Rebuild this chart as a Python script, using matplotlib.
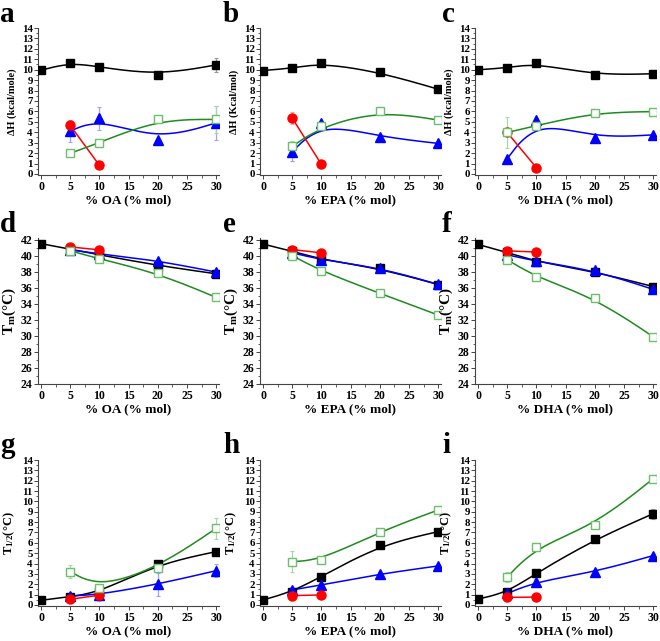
import numpy as np
import matplotlib
matplotlib.use("Agg")
import matplotlib.pyplot as plt
from matplotlib.ticker import MultipleLocator

plt.rcParams['font.family'] = ['Liberation Serif', 'DejaVu Serif']
plt.rcParams['font.weight'] = 'bold'
plt.rcParams['mathtext.fontset'] = 'custom'
plt.rcParams['mathtext.rm'] = 'Liberation Serif:bold'
plt.rcParams['mathtext.it'] = 'Liberation Serif:bold'

# x positions (% mol)
x_all = [0, 5, 10, 20, 30]
x_sub = [5, 10, 20, 30]
x_red = [5, 10]

# ---- row 1: enthalpy (kcal/mol)
dH_oa_black = [9.95, 10.68, 10.27, 9.47, 10.46]
dH_oa_red = [4.66, 0.83]
dH_oa_blue = [4.11, 5.32, 3.22, 4.90]
dH_oa_green = [1.98, 3.00, 5.23, 5.23]
dH_oa_black_err = [0.1, 0.15, 0.15, 0.15, 0.7]
dH_oa_red_err = [0.5, 0.1]
dH_oa_blue_err = [1.0, 1.1, 0.2, 1.6]
dH_oa_green_err = [0.2, 0.2, 0.2, 1.3]

dH_epa_black = [9.92, 10.14, 10.65, 9.76, 8.13]
dH_epa_red = [5.36, 0.92]
dH_epa_blue = [2.14, 4.91, 3.57, 2.93]
dH_epa_green = [2.65, 4.56, 6.06, 5.17]
dH_epa_black_err = [0.1, 0.2, 0.15, 0.2, 0.15]
dH_epa_red_err = [0.6, 0.1]
dH_epa_blue_err = [0.9, 0.2, 0.3, 0.2]
dH_epa_green_err = [0.5, 0.3, 0.3, 0.15]

dH_dha_black = [9.99, 10.18, 10.63, 9.48, 9.61]
dH_dha_red = [3.98, 0.60]
dH_dha_blue = [1.46, 5.15, 3.44, 3.75]
dH_dha_green = [3.98, 4.64, 5.89, 5.98]
dH_dha_black_err = [0.1, 0.15, 0.15, 0.15, 0.4]
dH_dha_red_err = [0.3, 0.1]
dH_dha_blue_err = [0.2, 0.2, 0.2, 0.2]
dH_dha_green_err = [1.5, 0.2, 0.2, 0.2]

# ---- row 2: Tm (deg C)
tm_oa_black = [41.5, 40.8, 40.1, 38.77, 37.74]
tm_oa_red = [41.09, 40.72]
tm_oa_blue = [40.72, 40.22, 39.38, 37.95]
tm_oa_green = [40.6, 39.6, 37.82, 34.8]

tm_epa_black = [41.45, 40.55, 39.52, 38.4, 36.4]
tm_epa_red = [40.76, 40.35]
tm_epa_blue = [40.35, 39.48, 38.49, 36.42]
tm_epa_green = [40.0, 38.07, 35.3, 32.6]

tm_dha_black = [41.4, 40.4, 39.25, 38.0, 36.15]
tm_dha_red = [40.6, 40.45]
tm_dha_blue = [40.1, 39.3, 38.15, 35.8]
tm_dha_green = [39.5, 37.3, 34.75, 29.9]

# ---- row 3: T1/2 (deg C)
th_oa_black = [0.45, 0.8, 1.22, 3.96, 5.15]
th_oa_red = [0.55, 0.95]
th_oa_blue = [0.87, 1.0, 2.0, 3.31]
th_oa_green = [3.22, 1.67, 3.6, 7.4]
th_oa_black_err = [0.1, 0.1, 0.2, 0.2, 0.2]
th_oa_red_err = [0.1, 0.1]
th_oa_blue_err = [0.2, 0.6, 1.1, 0.6]
th_oa_green_err = [0.6, 0.3, 0.4, 1.0]

th_epa_black = [0.48, 1.29, 2.74, 5.79, 7.08]
th_epa_red = [0.9, 0.97]
th_epa_blue = [1.45, 1.93, 2.99, 3.77]
th_epa_green = [4.18, 4.35, 7.08, 9.17]
th_epa_black_err = [0.1, 0.1, 0.2, 0.2, 0.2]
th_epa_red_err = [0.1, 0.1]
th_epa_blue_err = [0.3, 0.2, 0.2, 0.2]
th_epa_green_err = [1.0, 0.3, 0.2, 0.2]

th_dha_black = [0.57, 1.21, 3.09, 6.33, 8.81]
th_dha_red = [0.73, 0.76]
th_dha_blue = [1.11, 2.26, 3.18, 4.77]
th_dha_green = [2.7, 5.63, 7.7, 12.19]
th_dha_black_err = [0.1, 0.1, 0.2, 0.2, 0.5]
th_dha_red_err = [0.1, 0.1]
th_dha_blue_err = [0.2, 0.2, 0.2, 0.2]
th_dha_green_err = [0.5, 0.2, 0.2, 0.2]

letters = ['a', 'b', 'c', 'd', 'e', 'f', 'g', 'h', 'i']
xlabels = ['% OA (% mol)', '% EPA (% mol)', '% DHA (% mol)']
ylabels_dH = ['ΔH (kcal/mole)', 'ΔH (Kcal/mol)', 'ΔH (kcal/mole)']


def bspline(xs, ys, n=40):
    # uniform cubic B-spline, end points tripled so the curve starts/ends on them
    P = np.column_stack([xs, ys]).astype(float)
    P = np.vstack([P[:1], P[:1], P, P[-1:], P[-1:]])
    t = np.linspace(0, 1, n)[:, None]
    b0 = (1 - t) ** 3 / 6
    b1 = (3 * t ** 3 - 6 * t ** 2 + 4) / 6
    b2 = (-3 * t ** 3 + 3 * t ** 2 + 3 * t + 1) / 6
    b3 = t ** 3 / 6
    segs = [b0 * P[i] + b1 * P[i + 1] + b2 * P[i + 2] + b3 * P[i + 3]
            for i in range(len(P) - 3)]
    C = np.vstack(segs)
    return C[:, 0], C[:, 1]


styles = {
    'black': dict(line='black', marker='s', mfc='black', mec='black', ms=6, err='#9a9a9a'),
    'blue': dict(line='#0000ff', marker='^', mfc='#0000ff', mec='#0000ff', ms=7, err='#a0a0ff'),
    'red': dict(line='#ff0000', marker='o', mfc='#ff0000', mec='#ff0000', ms=6.5, err='#ff9a9a'),
    'green': dict(line='#1e8c1e', marker='s', mfc='white', mec='#6cc06c', ms=6, err='#a8d8a8'),
}


def draw(ax, xs, ys, key, err=None):
    s = styles[key]
    cx, cy = bspline(xs, ys)
    ax.plot(cx, cy, color=s['line'], lw=1.1, zorder=2)
    if err is not None:
        ax.errorbar(xs, ys, yerr=err, fmt='none', ecolor=s['err'], elinewidth=0.9,
                    capsize=1.5, capthick=0.8, zorder=1)
    ax.plot(xs, ys, ls='none', marker=s['marker'], mfc=s['mfc'], mec=s['mec'],
            ms=s['ms'], mew=1.0, zorder=3)


W, H = 660, 641
fig = plt.figure(figsize=(W / 100, H / 100), dpi=100)

col_left = [37.5, 259.5, 474.5]
col_width = 181
row_box = [(28, 175), (238, 384), (460, 606)]
letter_x = [0, 223, 442]
letter_base = [22, 232, 453]

panels = [
    [(dH_oa_black, dH_oa_red, dH_oa_blue, dH_oa_green),
     (dH_oa_black_err, dH_oa_red_err, dH_oa_blue_err, dH_oa_green_err)],
    [(dH_epa_black, dH_epa_red, dH_epa_blue, dH_epa_green),
     (dH_epa_black_err, dH_epa_red_err, dH_epa_blue_err, dH_epa_green_err)],
    [(dH_dha_black, dH_dha_red, dH_dha_blue, dH_dha_green),
     (dH_dha_black_err, dH_dha_red_err, dH_dha_blue_err, dH_dha_green_err)],
    [(tm_oa_black, tm_oa_red, tm_oa_blue, tm_oa_green), None],
    [(tm_epa_black, tm_epa_red, tm_epa_blue, tm_epa_green), None],
    [(tm_dha_black, tm_dha_red, tm_dha_blue, tm_dha_green), None],
    [(th_oa_black, th_oa_red, th_oa_blue, th_oa_green),
     (th_oa_black_err, th_oa_red_err, th_oa_blue_err, th_oa_green_err)],
    [(th_epa_black, th_epa_red, th_epa_blue, th_epa_green),
     (th_epa_black_err, th_epa_red_err, th_epa_blue_err, th_epa_green_err)],
    [(th_dha_black, th_dha_red, th_dha_blue, th_dha_green),
     (th_dha_black_err, th_dha_red_err, th_dha_blue_err, th_dha_green_err)],
]

for idx, (vals, errs) in enumerate(panels):
    r, c = divmod(idx, 3)
    top, bot = row_box[r]
    ax = fig.add_axes([col_left[c] / W, 1 - bot / H, col_width / W, (bot - top) / H])
    black, red, blue, green = vals
    if errs is None:
        errs = (None, None, None, None)
    draw(ax, x_all, black, 'black', errs[0])
    draw(ax, x_sub, blue, 'blue', errs[2])
    draw(ax, x_red, red, 'red', errs[1])
    draw(ax, x_sub, green, 'green', errs[3])

    ax.set_xlim(-0.6, 30.4)
    ax.xaxis.set_major_locator(MultipleLocator(5))
    ax.xaxis.set_minor_locator(MultipleLocator(2.5))
    if r == 1:
        ax.set_ylim(24, 42.2)
        ax.yaxis.set_major_locator(MultipleLocator(2))
        ax.yaxis.set_minor_locator(MultipleLocator(1))
        ax.set_ylabel('T$_\\mathrm{m}$(°C)', fontsize=11, fontweight='bold', labelpad=2)
        ysize = 8.5
    else:
        ax.set_ylim(-0.1, 14)
        ax.yaxis.set_major_locator(MultipleLocator(1))
        ax.yaxis.set_minor_locator(MultipleLocator(0.5))
        if r == 0:
            ax.set_ylabel(ylabels_dH[c], fontsize=7.5, fontweight='bold', labelpad=3)
        else:
            ax.set_ylabel('T$_{1/2}$(°C)', fontsize=9, fontweight='bold', labelpad=3)
        ysize = 7.8
    ax.set_xlabel(xlabels[c], fontsize=9.5, fontweight='bold', labelpad=1)

    for side in ('top', 'right'):
        ax.spines[side].set_visible(False)
    for side in ('left', 'bottom'):
        ax.spines[side].set_linewidth(0.8)
        ax.spines[side].set_color('#444444')
    ax.tick_params(which='major', direction='out', length=3, width=0.7, pad=1,
                   labelsize=8.5, colors='#444444', labelcolor='black')
    ax.tick_params(axis='y', which='major', labelsize=ysize, pad=0.5)
    ax.tick_params(which='minor', direction='out', length=1.8, width=0.6, colors='#444444')
    for lab in ax.get_xticklabels() + ax.get_yticklabels():
        lab.set_fontweight('bold')

    fig.text(letter_x[c] / W, 1 - letter_base[r] / H, letters[idx], fontsize=21,
             fontweight='bold', va='baseline', ha='left')

fig.savefig('out.png', dpi=100)
